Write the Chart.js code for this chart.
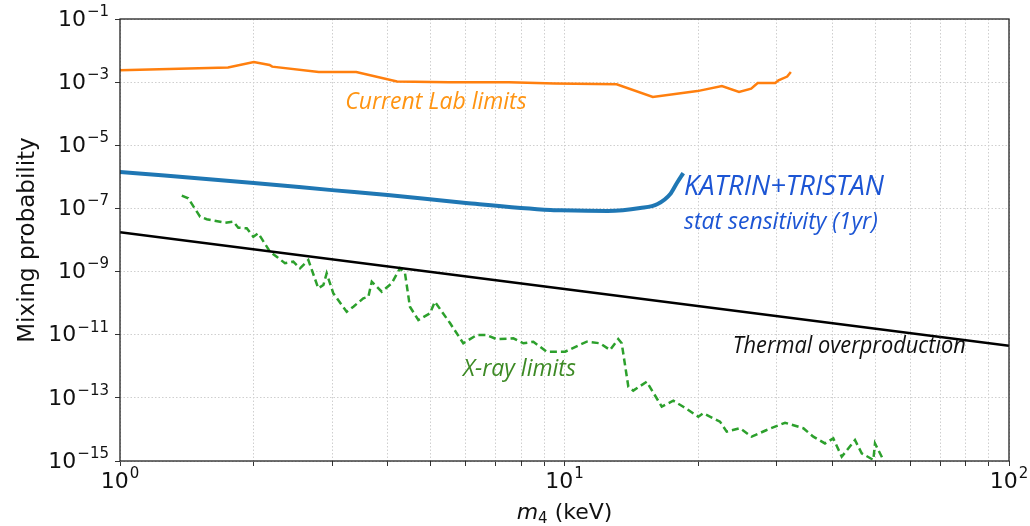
<!DOCTYPE html>
<html>
<head>
<meta charset="utf-8">
<script src="https://cdn.jsdelivr.net/npm/chart.js@4.4.0/dist/chart.umd.min.js"></script>
<style>
  html, body { margin: 0; padding: 0; background: #fff; }
  #wrap { width: 1030px; height: 526px; }
</style>
</head>
<body>
<div id="wrap"><canvas id="sterile"></canvas></div>
<script>
// current lab limits (orange)
var labMass = [1.0, 1.75, 2.0, 2.17, 2.2, 2.8, 3.4, 4.2, 5.5, 7.5, 9.5, 13.1, 15.8, 19.9, 22.6, 24.7, 26.3, 27.2, 29.8, 30.3, 31.7, 32.3];
var labMix  = [2.4e-3, 2.9e-3, 4.3e-3, 3.5e-3, 3.1e-3, 2.1e-3, 2.1e-3, 1.05e-3, 1.0e-3, 1.0e-3, 9.0e-4, 8.5e-4, 3.4e-4, 5.2e-4, 7.5e-4, 4.9e-4, 6.2e-4, 9.4e-4, 9.4e-4, 1.15e-3, 1.5e-3, 2.1e-3];

// KATRIN+TRISTAN stat sensitivity (blue)
var katMass = [1.0, 2.0, 3.0, 4.0, 6.0, 9.3, 9.8, 12.5, 14.8, 16.2, 17.3, 17.9, 18.5];
var katMix  = [1.43e-6, 6.4e-7, 3.8e-7, 2.66e-7, 1.49e-7, 8.9e-8, 8.7e-8, 8.3e-8, 1.03e-7, 1.38e-7, 2.86e-7, 6.4e-7, 1.32e-6];

// thermal overproduction (black)
var thermMass = [1, 10, 100];
var thermMix  = [1.75e-8, 2.8e-10, 4.5e-12];

// X-ray limits (green dashed)
var xrayMass = [1.377, 1.424, 1.514, 1.567, 1.723, 1.798, 1.846, 1.928, 1.995, 2.047, 2.175, 2.252, 2.35, 2.454, 2.541, 2.653,
  2.793, 2.868, 2.917, 3.019, 3.236, 3.35, 3.527, 3.62, 3.685, 3.88, 4.085, 4.265, 4.377, 4.49, 4.69, 4.98, 5.11, 5.53,
  5.92, 6.35, 6.68, 7.04, 7.67, 8.08, 8.51, 9.12, 10.03, 11.22, 12.02, 12.66, 13.21, 13.45, 13.92, 14.28, 15.31, 16.55,
  17.57, 18.5, 20.0, 20.52, 22.38, 23.17, 24.82, 26.37, 28.5, 31.35, 34.46, 36.29, 38.55, 40.24, 42.04, 45.04, 46.63,
  49.52, 49.95, 52.15];
var xrayMix = [2.53e-7, 2.09e-7, 5.47e-8, 4.53e-8, 3.53e-8, 3.8e-8, 2.45e-8, 2.35e-8, 1.27e-8, 1.63e-8, 4.26e-9, 2.96e-9, 1.83e-9, 2.06e-9, 1.27e-9, 2.32e-9,
  2.95e-10, 3.76e-10, 8.8e-10, 2.05e-10, 5.36e-11, 7.7e-11, 1.42e-10, 1.6e-10, 4.77e-10, 2.3e-10, 4.25e-10, 1.27e-9, 8.8e-10, 7.7e-11, 2.92e-11, 4.76e-11, 1.11e-10, 2.3e-11,
  5.35e-12, 9.8e-12, 9.8e-12, 7.2e-12, 7.7e-12, 5.35e-12, 6.0e-12, 2.9e-12, 2.9e-12, 6.0e-12, 5.35e-12, 3.28e-12, 7.3e-12, 5.35e-12, 2.25e-13, 1.69e-13, 3.25e-13, 5.25e-14,
  8.1e-14, 5.25e-14, 2.53e-14, 3.24e-14, 1.76e-14, 8.5e-15, 1.09e-14, 5.9e-15, 9.6e-15, 1.63e-14, 1.09e-14, 5.9e-15, 3.6e-15, 5.2e-15, 1.37e-15, 4.6e-15, 1.75e-15,
  1.08e-15, 3.6e-15, 1.08e-15];

// axis ticks (labels are 10^exp)
var xTicks = [1, 2, 3, 4, 5, 6, 7, 8, 9, 10, 20, 30, 40, 50, 60, 70, 80, 90, 100];
var xLabelVals = [1, 10, 100];
var xLabelExp = ['0', '1', '2'];
var yTicks = [1e-15, 1e-13, 1e-11, 1e-9, 1e-7, 1e-5, 1e-3, 1e-1];
var yLabelExp = ['\u221215', '\u221213', '\u221211', '\u22129', '\u22127', '\u22125', '\u22123', '\u22121'];

// curve labels: text, anchor (mass, mixing)
var noteText = ['Current Lab limits', 'KATRIN+TRISTAN', 'stat sensitivity (1yr)', 'Thermal overproduction', 'X-ray limits'];
var noteMass = [3.21, 18.57, 18.57, 23.9, 5.91];
var noteMix  = [2.2e-4, 4.8e-7, 3.7e-8, 4.1e-12, 8.2e-13];

function pts(xs, ys) {
  return xs.map(function (v, i) { return { x: v, y: ys[i] }; });
}

var noteStyle = [
  { color: '#ff9412', size: 23, width: 182 },
  { color: '#1c55d4', size: 28, width: 200 },
  { color: '#1c55d4', size: 23, width: 209 },
  { color: '#111111', size: 23, width: 233 },
  { color: '#3d8a25', size: 23, width: 120 }
];

var FONT = '"DejaVu Sans", sans-serif';

// "10" with a raised exponent; align: 'right' (y axis) or 'center' (x axis)
function powLabel(c, exp, x, y, align) {
  c.font = '22px ' + FONT;
  var wb = c.measureText('10').width;
  c.font = '15px ' + FONT;
  var we = c.measureText(exp).width + 1;
  var x0 = align === 'right' ? x - wb - we : x - (wb + we) / 2;
  c.textBaseline = 'middle';
  c.textAlign = 'left';
  c.font = '22px ' + FONT;
  c.fillText('10', x0, y);
  c.font = '15px ' + FONT;
  c.fillText(exp, x0 + wb + 1, y - 8);
}

var extras = {
  id: 'extras',
  afterDraw: function (chart) {
    var c = chart.ctx, a = chart.chartArea;
    var xs = chart.scales.x, ys = chart.scales.y;
    c.save();
    // frame
    c.strokeStyle = '#222';
    c.lineWidth = 1.3;
    c.strokeRect(a.left, a.top, a.right - a.left, a.bottom - a.top);
    // tick labels
    c.fillStyle = '#111';
    yTicks.forEach(function (v, i) {
      powLabel(c, yLabelExp[i], a.left - 11, ys.getPixelForValue(v) + 1, 'right');
    });
    xLabelVals.forEach(function (v, i) {
      powLabel(c, xLabelExp[i], xs.getPixelForValue(v), a.bottom + 21, 'center');
    });
    // curve labels
    c.textBaseline = 'middle';
    c.textAlign = 'left';
    noteText.forEach(function (t, i) {
      var s = noteStyle[i];
      c.fillStyle = s.color;
      c.font = 'italic ' + s.size + 'px "Open Sans", "DejaVu Sans", sans-serif';
      c.fillText(t, xs.getPixelForValue(noteMass[i]), ys.getPixelForValue(noteMix[i]), s.width);
    });
    // x axis title: m_4 (keV)
    c.fillStyle = '#111';
    c.textBaseline = 'alphabetic';
    var base = 519;
    c.font = 'italic 22px ' + FONT;
    var w1 = c.measureText('m').width;
    c.font = '15px ' + FONT;
    var w2 = c.measureText('4').width;
    c.font = '22px ' + FONT;
    var w3 = c.measureText(' (keV)').width;
    var x0 = (a.left + a.right) / 2 - (w1 + w2 + w3) / 2;
    c.font = 'italic 22px ' + FONT;
    c.fillText('m', x0, base);
    c.font = '15px ' + FONT;
    c.fillText('4', x0 + w1, base + 4);
    c.font = '22px ' + FONT;
    c.fillText(' (keV)', x0 + w1 + w2, base);
    // y axis title
    c.translate(28, (a.top + a.bottom) / 2);
    c.rotate(-Math.PI / 2);
    c.textAlign = 'center';
    c.textBaseline = 'middle';
    c.font = '23px ' + FONT;
    c.fillText('Mixing probability', 0, 0);
    c.restore();
  }
};

var gridStyle = {
  color: '#cfcfcf',
  tickColor: '#333',
  tickBorderDash: [],
  tickLength: 5
};

var ctx = document.getElementById('sterile');
var chart = new Chart(ctx, {
  type: 'line',
  data: {
    datasets: [{
      label: 'Current Lab limits',
      data: pts(labMass, labMix),
      borderColor: '#ff7f0e',
      borderWidth: 2.5
    }, {
      label: 'KATRIN+TRISTAN',
      data: pts(katMass, katMix),
      borderColor: '#1f77b4',
      borderWidth: 4,
      cubicInterpolationMode: 'monotone'
    }, {
      label: 'Thermal overproduction',
      data: pts(thermMass, thermMix),
      borderColor: '#000000',
      borderWidth: 2.5
    }, {
      label: 'X-ray limits',
      data: pts(xrayMass, xrayMix),
      borderColor: '#2ca02c',
      borderWidth: 2.5,
      borderDash: [7, 4]
    }]
  },
  options: {
    responsive: true,
    maintainAspectRatio: false,
    animation: false,
    elements: { point: { radius: 0 }, line: { tension: 0, fill: false } },
    layout: { padding: { top: 19, right: 21, left: 0, bottom: 0 } },
    plugins: { legend: { display: false }, tooltip: { enabled: false } },
    scales: {
      x: {
        type: 'logarithmic',
        min: 1, max: 100,
        afterBuildTicks: function (axis) {
          axis.ticks = xTicks.map(function (v) { return { value: v }; });
        },
        afterFit: function (axis) { axis.height = 65; },
        border: { display: false, dash: [1.5, 2] },
        grid: gridStyle,
        ticks: {
          autoSkip: false,
          maxRotation: 0,
          color: 'rgba(0,0,0,0)',
          font: { family: FONT, size: 22 },
          callback: function () { return ''; }
        }
      },
      y: {
        type: 'logarithmic',
        min: 1e-15, max: 1e-1,
        afterBuildTicks: function (axis) {
          axis.ticks = yTicks.map(function (v) { return { value: v }; });
        },
        afterFit: function (axis) { axis.width = 120; },
        border: { display: false, dash: [1.5, 2] },
        grid: gridStyle,
        ticks: {
          autoSkip: false,
          color: 'rgba(0,0,0,0)',
          font: { family: FONT, size: 22 },
          callback: function () { return ''; }
        }
      }
    }
  },
  plugins: [extras]
});
</script>
</body>
</html>
